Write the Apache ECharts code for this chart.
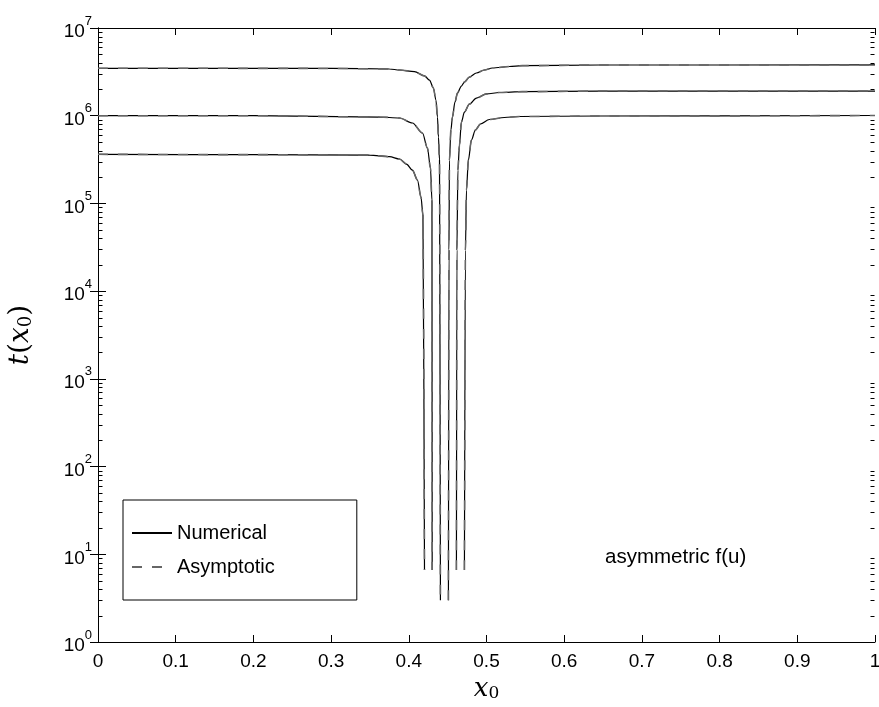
<!DOCTYPE html>
<html>
<head>
<meta charset="UTF-8">
<title>t(x0)</title>
<script type="text/javascript" src="https://cdn.jsdelivr.net/npm/echarts@6/dist/echarts.min.js"></script>
<style>
html,body{margin:0;padding:0;background:#fff;}
</style>
</head>
<body>
<div id="main" style="width:879px;height:707px;"></div>

<script type="text/javascript">
// x axis ticks
var xTicks=[0,0.1,0.2,0.3,0.4,0.5,0.6,0.7,0.8,0.9,1];
// y axis decades (10^n)
var yExponents=[0,1,2,3,4,5,6,7];

// curve A (top): left branch / right branch, [x0, t]
var curveALeft=[[0,3.47e6],[0.15,3.47e6],[0.30,3.46e6],[0.3752,3.41e6],[0.388,3.32e6],[0.4073,3.18e6],
  [0.4202,2.84e6],[0.4266,2.55e6],[0.4317,2.07e6],[0.4349,1.51e6],[0.4369,9.66e5],[0.4382,5.72e5],
  [0.4395,3.12e5],[0.4407,3.0]];
var curveARight=[[0.4510,3.0],[0.4517,2.94e4],[0.4523,3.12e5],[0.4542,6.87e5],[0.4562,9.66e5],
  [0.4594,1.43e6],[0.4626,1.81e6],[0.4677,2.18e6],[0.4716,2.42e6],[0.4780,2.76e6],[0.4870,3.07e6],
  [0.4973,3.32e6],[0.5076,3.50e6],[0.5294,3.64e6],[0.5461,3.72e6],[0.6451,3.785e6],[1,3.79e6]];

// curve B (middle)
var curveBLeft=[[0,1.0e6],[0.2,1.0e6],[0.3623,9.66e5],[0.388,9.42e5],[0.4047,8.26e5],[0.4176,6.35e5],
  [0.4240,4.28e5],[0.4279,2.53e5],[0.4298,1.09e5],[0.4301,6.6]];
var curveBRight=[[0.4613,6.6],[0.4619,2.94e4],[0.4632,2.40e5],[0.4652,4.63e5],[0.4677,8.48e5],
  [0.4716,1.10e6],[0.4780,1.36e6],[0.4870,1.59e6],[0.4999,1.77e6],[0.5166,1.84e6],[0.5461,1.88e6],
  [0.6451,1.91e6],[1,1.91e6]];

// curve C (bottom)
var curveCLeft=[[0,3.63e5],[0.2,3.60e5],[0.3494,3.56e5],[0.3752,3.41e5],[0.388,3.21e5],[0.397,2.81e5],
  [0.4047,2.40e5],[0.4111,1.85e5],[0.4157,1.18e5],[0.4182,7.37e4],[0.4202,6.6]];
var curveCRight=[[0.4716,6.6],[0.4729,2.94e4],[0.4742,1.42e5],[0.4767,3.12e5],[0.4806,5.28e5],
  [0.4857,6.87e5],[0.4922,8.04e5],[0.5037,9.05e5],[0.5230,9.54e5],[0.5423,9.79e5],[0.6451,9.92e5],
  [1,1.005e6]];

var branches=[curveALeft,curveARight,curveBLeft,curveBRight,curveCLeft,curveCRight];

// minor ticks of the log axis: 2..9 x 10^n
var minorVals=[];
for(var e=0;e<7;e++){
  for(var k=2;k<=9;k++){ minorVals.push(k*Math.pow(10,e)); }
}

var FONT='"Liberation Sans", Arial, Helvetica, sans-serif';
var SERIF='"DejaVu Serif", "Liberation Serif", serif';
var mychart=echarts.init(document.getElementById('main'));

var series=[];
branches.forEach(function(b){
  series.push({
    name:'Numerical', type:'line', data:b, showSymbol:false, symbol:'none',
    smooth:0.3, smoothMonotone:'x',
    lineStyle:{color:'#000',width:1.2}, itemStyle:{color:'#000'},
    animation:false, z:2
  });
});
branches.forEach(function(b){
  series.push({
    name:'Asymptotic', type:'line', data:b, showSymbol:false, symbol:'none',
    smooth:0.3, smoothMonotone:'x',
    lineStyle:{color:'#666',width:1.6,type:[10,10]}, itemStyle:{color:'#666'},
    animation:false, z:3
  });
});

// log minor ticks: y from the scale, x at the left and right frame of the grid
series.push({
  type:'custom', silent:true, animation:false, clip:false, z:4,
  data:minorVals.map(function(v){return [0.5,v];}),
  encode:{x:0,y:1},
  renderItem:function(params,api){
    var p=api.coord([api.value(0),api.value(1)]);
    var r=params.coordSys;
    var y=Math.round(p[1])+0.5;
    var xl=Math.round(r.x)+0.5, xr=Math.round(r.x+r.width)-0.5;
    return {type:'group',children:[
      {type:'line',shape:{x1:xl,y1:y,x2:xl+4,y2:y},style:{stroke:'#000',lineWidth:1}},
      {type:'line',shape:{x1:xr,y1:y,x2:xr-4,y2:y},style:{stroke:'#000',lineWidth:1}}
    ]};
  }
});

var yLabelRich={
  b:{fontSize:19,fontFamily:FONT,color:'#000',verticalAlign:'bottom'},
  s:{fontSize:13,fontFamily:FONT,color:'#000',padding:[0,0,14,0],verticalAlign:'bottom'}
};

var option={
  animation:false,
  grid:{left:98,right:4,top:28,bottom:65,containLabel:false,outerBoundsMode:'none'},
  legend:{
    data:['Numerical','Asymptotic'],
    orient:'vertical', left:123, top:500,
    itemWidth:40, itemHeight:14, itemGap:14,
    padding:[23,82,23,8],
    borderColor:'#000', borderWidth:1, backgroundColor:'#fff',
    itemStyle:{opacity:0},
    textStyle:{fontSize:20,fontFamily:FONT,color:'#000',lineHeight:20},
    selectedMode:false
  },
  xAxis:[{
    type:'value', min:0, max:1, interval:0.1,
    name:'{i|x}{s|0}', nameLocation:'middle', nameGap:30,
    nameTextStyle:{rich:{
      i:{fontSize:26,fontFamily:SERIF,fontStyle:'italic',color:'#000'},
      s:{fontSize:17,fontFamily:SERIF,color:'#000',padding:[10,0,0,0]}
    }},
    axisLine:{show:true,lineStyle:{color:'#000',width:1}},
    axisTick:{show:true,inside:true,length:7,lineStyle:{color:'#000'}},
    axisLabel:{fontSize:19,fontFamily:FONT,color:'#000',margin:10},
    splitLine:{show:false}
  },{
    type:'value', min:0, max:1, interval:0.1, position:'top',
    axisLine:{show:true,onZero:false,lineStyle:{color:'#000',width:1}},
    axisTick:{show:true,inside:true,length:7,lineStyle:{color:'#000'}},
    axisLabel:{show:false}, splitLine:{show:false}
  }],
  yAxis:[{
    type:'log', logBase:10, min:1, max:1e7, interval:1,
    name:'{i|t}{p|(}{i|x}{s|0}{p|)}', nameLocation:'middle', nameGap:63, nameRotate:90,
    nameTextStyle:{rich:{
      i:{fontSize:28,fontFamily:SERIF,fontStyle:'italic',color:'#000'},
      p:{fontSize:28,fontFamily:SERIF,color:'#000'},
      s:{fontSize:18,fontFamily:SERIF,color:'#000',padding:[10,0,0,0]}
    }},
    axisLine:{show:true,lineStyle:{color:'#000',width:1}},
    axisTick:{show:true,inside:true,length:8,lineStyle:{color:'#000'}},
    axisLabel:{
      margin:6,
      formatter:function(v){
        var e=Math.round(Math.log(v)/Math.LN10);
        if(yExponents.indexOf(e)<0) return '';
        return '{b|10}{s|'+e+'}';
      },
      rich:yLabelRich
    },
    splitLine:{show:false}
  },{
    type:'log', logBase:10, min:1, max:1e7, interval:1, position:'right',
    axisLine:{show:true,lineStyle:{color:'#000',width:1}},
    axisTick:{show:true,inside:true,length:8,lineStyle:{color:'#000'}},
    axisLabel:{show:false}, splitLine:{show:false}
  }],
  graphic:[{
    type:'text', left:605, top:547,
    style:{text:'asymmetric f(u)',fontSize:20.5,fontFamily:FONT,fill:'#000'}
  }],
  series:series
};

mychart.setOption(option);
</script>
</body>
</html>
